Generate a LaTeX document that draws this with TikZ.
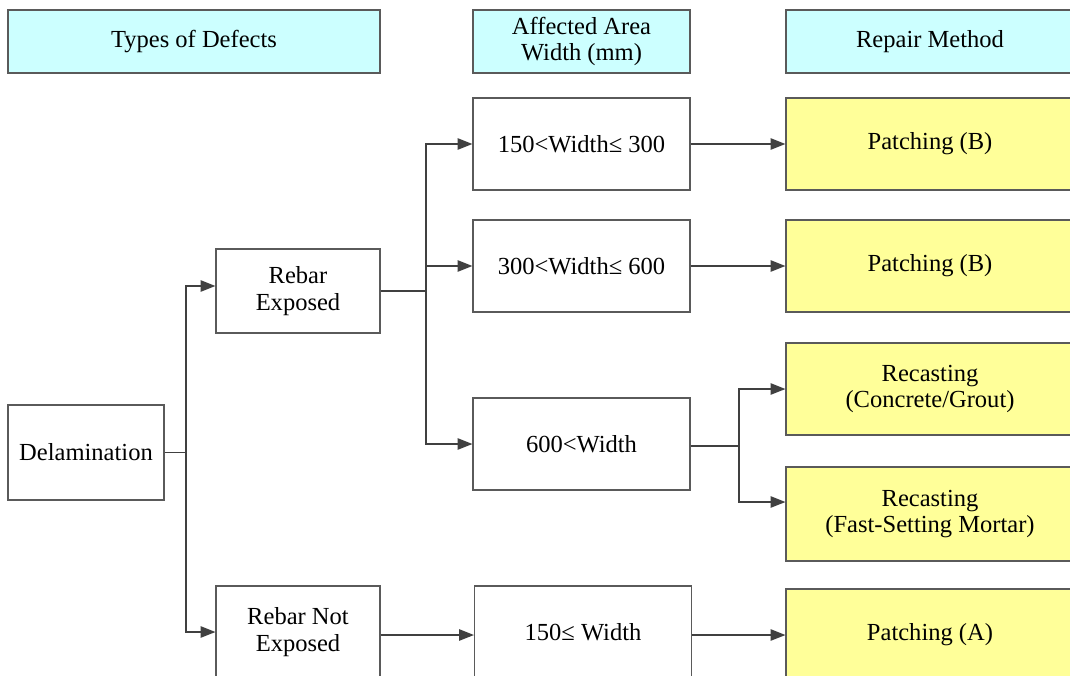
\documentclass[tikz,border=0pt]{standalone}
\usepackage{fontspec}
\setmainfont{Liberation Serif}
\usetikzlibrary{arrows.meta}
\definecolor{headfill}{HTML}{CCFFFF}
\definecolor{repairfill}{HTML}{FFFF99}
\definecolor{edge}{HTML}{5A5A5A}
\definecolor{wire}{HTML}{404040}
\def\px{0.75pt}
\begin{document}
\begin{tikzpicture}[x=0.75pt,y=-0.75pt,
  box/.style={draw=edge, line width=0.9pt, align=center, inner sep=0pt,
    font=\fontsize{18.4}{20}\selectfont},
  head/.style={box, fill=headfill},
  repair/.style={box, fill=repairfill, minimum width=288*\px, minimum height=92*\px},
  wbox/.style={box, minimum width=217*\px, minimum height=92*\px},
  link/.style={draw=wire, line width=0.9pt},
  arr/.style={link, -{Triangle[length=11pt,width=8.5pt]}, color=wire}]
\useasboundingbox (0,0) rectangle (1070,675);
\clip (0,0) rectangle (1070,675);
\fill[white] (0,0) rectangle (1070,675);

% column headers
\node[head, minimum width=372*\px, minimum height=63*\px] (h1) at (194,41.5) {Types of Defects};
\node[head, minimum width=217*\px, minimum height=63*\px] (h2) at (581.5,41.5) {Affected Area\\Width (mm)};
\node[head, minimum width=288*\px, minimum height=63*\px] (h3) at (930,41.5) {Repair Method};

% defect types
\node[box, minimum width=156*\px, minimum height=95*\px] (dl) at (86,452.5) {Delamination};
\node[box, minimum width=164*\px, minimum height=84*\px] (re) at (298,291) {Rebar\\Exposed};
\node[box, minimum width=164*\px, minimum height=92*\px] (rn) at (298,632) {Rebar Not\\Exposed};

% affected widths
\node[wbox] (w1) at (581.5,144) {150<Width≤ 300};
\node[wbox] (w2) at (581.5,266) {300<Width≤ 600};
\node[wbox] (w3) at (581.5,444) {600<Width};
\node[wbox] (w4) at (583,632) {150≤ Width};

% repair methods
\node[repair] (r1) at (930,144) {Patching (B)};
\node[repair] (r2) at (930,266) {Patching (B)};
\node[repair] (r3) at (930,389) {Recasting\\(Concrete/Grout)};
\node[repair, minimum height=94*\px] (r4) at (930,514) {Recasting\\(Fast-Setting Mortar)};
\node[repair] (r5) at (930,635) {Patching (A)};

% branch points
\coordinate (j1) at (186,452.5);
\coordinate (j2) at (426,291);
\coordinate (j3) at (739,446);

% connectors
\draw[link] (dl.east) -- (j1);
\draw[arr] (j1) |- ([yshift=5*\px]re.west);
\draw[arr] (j1) |- (rn.west);

\draw[link] (re.east) -- (j2);
\draw[arr] (j2) |- (w1.west);
\draw[arr] (j2 |- w2.west) -- (w2.west);
\draw[arr] (j2) |- (w3.west);
\draw[arr] (rn.east |- 0,635) -- (w4.west |- 0,635);

\draw[arr] (w1.east) -- (r1.west);
\draw[arr] (w2.east) -- (r2.west);
\draw[link] (w3.east |- j3) -- (j3);
\draw[arr] (j3) |- (r3.west);
\draw[arr] (j3) |- ([yshift=12*\px]r4.west);
\draw[arr] (w4.east |- 0,635) -- (r5.west);
\end{tikzpicture}
\end{document}
